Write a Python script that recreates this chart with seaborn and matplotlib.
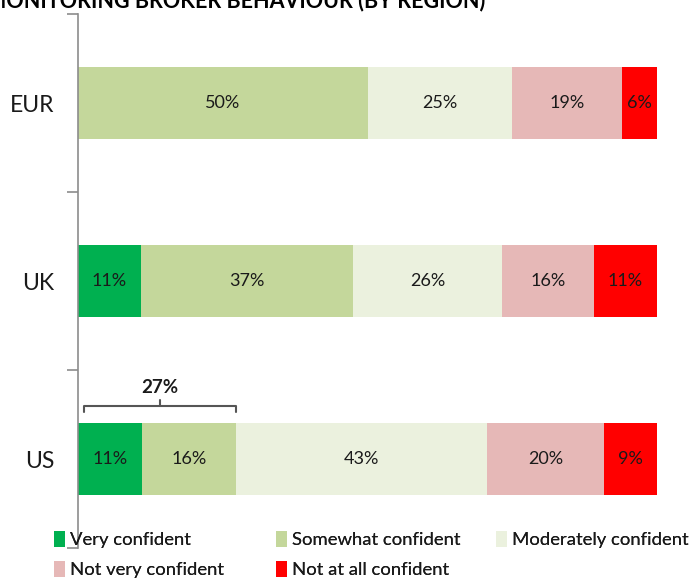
import matplotlib
matplotlib.use("Agg")
import matplotlib.pyplot as plt
from matplotlib.patches import Patch
import seaborn as sns
import pandas as pd
import numpy as np

regions = ["EUR", "UK", "US"]
categories = ["Very confident", "Somewhat confident", "Moderately confident",
              "Not very confident", "Not at all confident"]
very = [0, 11, 11]
somewhat = [50, 37, 16]
moderately = [25, 26, 43]
not_very = [19, 16, 20]
not_at_all = [6, 11, 9]
colors = ["#00B050", "#C4D79B", "#EBF1DE", "#E6B8B7", "#FF0000"]
bracket_label = "27%"
title = "MONITORING BROKER BEHAVIOUR (BY REGION)"

sns.set_theme(style="white")
plt.rcParams['font.family'] = ['Lato', 'DejaVu Sans']

df = pd.DataFrame({"region": regions, categories[0]: very, categories[1]: somewhat,
                   categories[2]: moderately, categories[3]: not_very, categories[4]: not_at_all})
vals = df[categories].to_numpy(dtype=float)
share = vals / vals.sum(axis=1, keepdims=True) * 100
cum = np.cumsum(share, axis=1)

W, H = 691, 579
fig = plt.figure(figsize=(W / 100, H / 100), dpi=100)
ax = fig.add_axes([78 / W, 1 - 548 / H, (657 - 78) / W, (548 - 14) / H])

for j in range(len(categories) - 1, -1, -1):
    d = pd.DataFrame({"region": regions, "v": cum[:, j]})
    sns.barplot(data=d, x="v", y="region", orient="h", color=colors[j],
                saturation=1, width=0.4, ax=ax, edgecolor="none", linewidth=0)

for i in range(len(regions)):
    for j in range(len(categories)):
        if vals[i, j] <= 0:
            continue
        left = cum[i, j] - share[i, j]
        ax.text(left + share[i, j] / 2, i, f"{int(vals[i, j])}%", ha="center", va="center",
                fontsize=13, color="#1a1a1a")

ax.set_xlim(0, 100)
ax.set_ylim(2.5, -0.5)
ax.set_xlabel("")
ax.set_ylabel("")
ax.set_xticks([])
for s in ["top", "right", "bottom"]:
    ax.spines[s].set_visible(False)
ax.spines["left"].set_color("#8c8c8c")
ax.spines["left"].set_linewidth(1.2)
ax.set_yticks([0, 1, 2])
ax.set_yticklabels(regions, fontsize=16.5, color="#1a1a1a")
ax.tick_params(axis="y", which="major", length=0, pad=17)
ax.set_yticks([-0.5, 0.5, 1.5, 2.5], minor=True)
ax.tick_params(axis="y", which="minor", left=True, length=8, color="#8c8c8c",
               width=1.2, direction="out")

# bracket over first two US segments
x0, x1 = 1.0, cum[2, 1]
yb = 2 - 0.3
ax.plot([x0, x0, x1, x1], [yb + 0.035, yb, yb, yb + 0.035], color="#555555", lw=1.5, clip_on=False)
xm = (x0 + x1) / 2
ax.plot([xm, xm], [yb, yb - 0.03], color="#555555", lw=1.5, clip_on=False)
ax.text(xm, yb - 0.055, bracket_label, ha="center", va="bottom", fontsize=13.5,
        fontweight="bold", color="#1a1a1a")

fig.text(-14 / W, 1 - 1 / H, title, ha="left", va="center", fontsize=15.5,
         fontweight="bold", color="#000000")

handles = [Patch(facecolor=c, edgecolor="none") for c in colors]
legend_cols = [([0, 3], 47), ([1, 4], 269), ([2], 489)]
for idx, xpos in legend_cols:
    leg = fig.legend([handles[k] for k in idx], [categories[k] for k in idx],
                     loc="upper left", bbox_to_anchor=(xpos / W, 1 - 524 / H),
                     frameon=False, fontsize=13.3, handlelength=0.6, handleheight=0.9,
                     handletextpad=0.25, labelspacing=0.7, borderaxespad=0,
                     labelcolor="#1a1a1a")
    fig.add_artist(leg)

fig.savefig("out.png", dpi=100)
